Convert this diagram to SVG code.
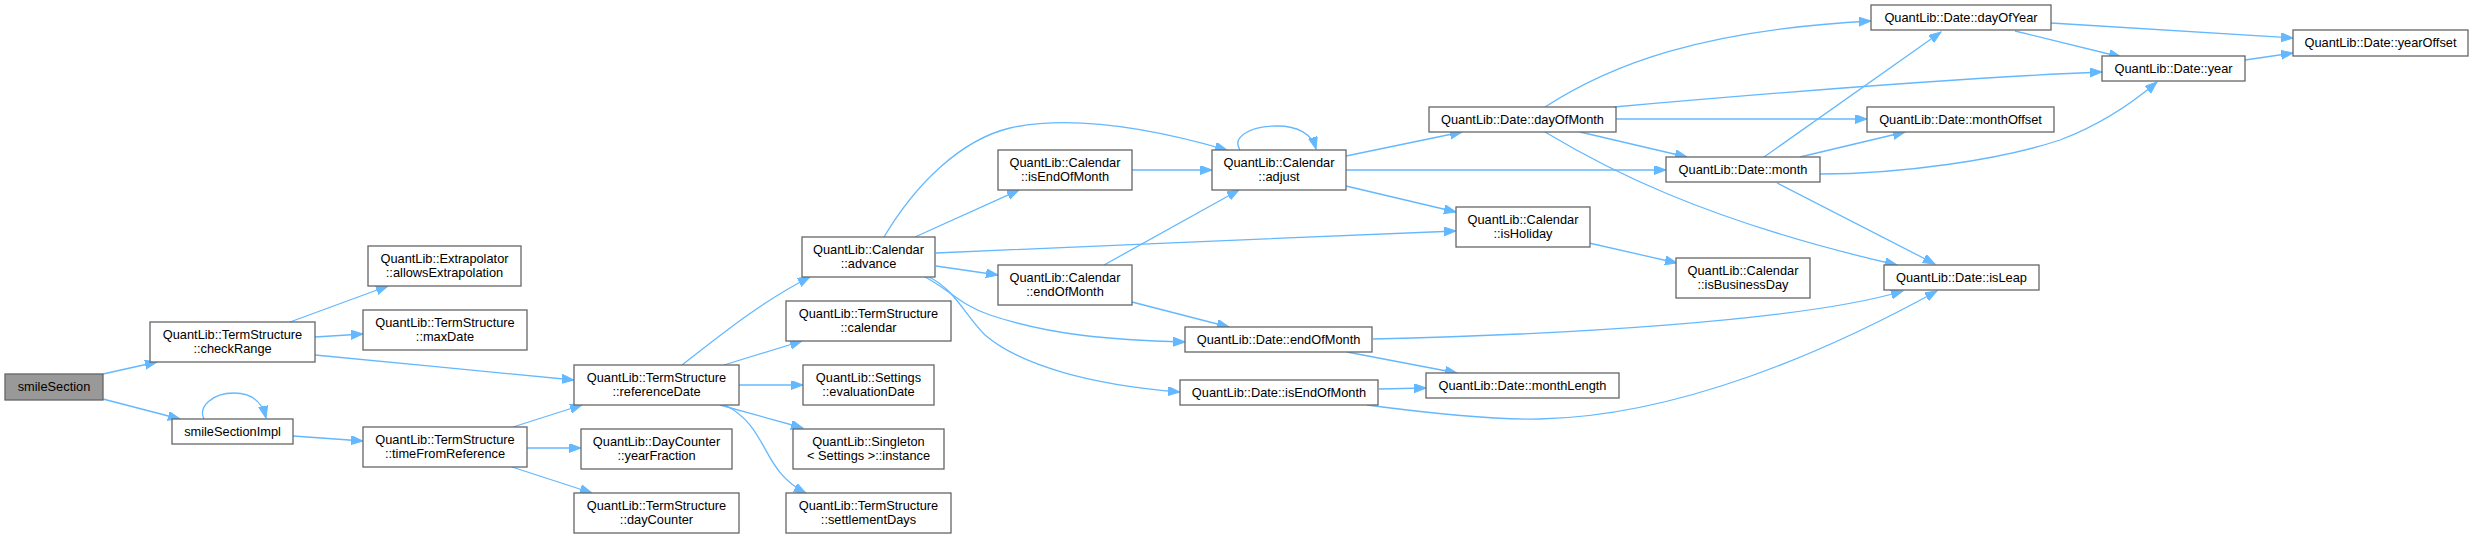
<svg xmlns="http://www.w3.org/2000/svg" width="2475" height="538" viewBox="0 0 2475 538">
<style>
.n rect{fill:#fff;stroke:#666;stroke-width:1.3}
.n text{font-family:"Liberation Sans",Arial,sans-serif;font-size:12.8px;fill:#000;text-anchor:middle}
#e path{fill:none;stroke:#63b8ff;stroke-width:1.3;marker-end:url(#a)}
</style>
<defs>
<marker id="a" markerWidth="13" markerHeight="10" refX="12" refY="4.5" orient="auto" markerUnits="userSpaceOnUse">
<path d="M0,0 L12,4.5 L0,9 z" fill="#63b8ff" stroke="#63b8ff" stroke-width="1"/>
</marker>
</defs>
<rect width="2475" height="538" fill="#fff"/>
<g id="e">
<path d="M103,374 L157,362"/>
<path d="M103,399 L180,419"/>
<path d="M204,419 C198,407 212,393 234,393 C252,393 262,401 266,418"/>
<path d="M293,436 L363,441"/>
<path d="M290,322 L388,286"/>
<path d="M315,337 L363,334"/>
<path d="M315,355 C400,363 490,372 574,380"/>
<path d="M513,427 L582,405"/>
<path d="M527,448 L581,448"/>
<path d="M512,467 L592,493"/>
<path d="M682,365 C712,342 760,302 810,277"/>
<path d="M724,365 L802,341"/>
<path d="M739,385 L803,385"/>
<path d="M720,405 L803,428"/>
<path d="M725,405 C770,428 760,470 806,493"/>
<path d="M884,237 C915,185 960,140 1010,128 C1060,117 1130,122 1227,150"/>
<path d="M915,237 L1019,190"/>
<path d="M936,253 C1100,246 1300,237 1456,231"/>
<path d="M936,266 L998,275"/>
<path d="M925,277 C950,290 960,305 990,315 C1050,335 1110,340 1185,342"/>
<path d="M929,277 C955,290 965,315 985,335 C1020,365 1090,385 1180,392"/>
<path d="M1132,170 L1212,170"/>
<path d="M1104,265 L1239,190"/>
<path d="M1132,302 L1229,327"/>
<path d="M1240,150 C1232,138 1248,126 1277,126 C1298,126 1312,134 1316,149"/>
<path d="M1346,156 L1462,132"/>
<path d="M1346,170 L1666,170"/>
<path d="M1346,186 L1456,212"/>
<path d="M1589,243 L1677,263"/>
<path d="M1373,339 C1550,335 1800,322 1903,291"/>
<path d="M1347,352 L1457,373"/>
<path d="M1379,389 L1426,388"/>
<path d="M1367,405 C1420,412 1490,420 1540,419 C1680,416 1830,350 1937,291"/>
<path d="M1545,107 C1610,65 1700,30 1871,21"/>
<path d="M1614,107 C1750,95 1950,78 2102,72"/>
<path d="M1616,119 L1867,119"/>
<path d="M1580,132 L1687,157"/>
<path d="M1545,132 C1600,165 1700,220 1897,265"/>
<path d="M1764,157 L1941,32"/>
<path d="M1800,157 L1905,132"/>
<path d="M1820,174 C1900,174 2000,160 2060,140 C2100,125 2130,105 2157,82"/>
<path d="M1777,183 L1935,264"/>
<path d="M2051,23 L2293,38"/>
<path d="M2015,31 L2121,57"/>
<path d="M2245,60 L2293,53"/>
</g>
<g id="smileSection" class="n"><rect x="5" y="374" width="98" height="26" style="fill:#999"/><text x="54" y="391">smileSection</text></g>
<g id="checkRange" class="n"><rect x="150" y="322" width="165" height="40"/><text x="232.5" y="339">QuantLib::TermStructure</text><text x="232.5" y="353">::checkRange</text></g>
<g id="smileSectionImpl" class="n"><rect x="172" y="419" width="121" height="25"/><text x="232.5" y="436">smileSectionImpl</text></g>
<g id="allowsExtrapolation" class="n"><rect x="368" y="246" width="153" height="40"/><text x="444.5" y="263">QuantLib::Extrapolator</text><text x="444.5" y="277">::allowsExtrapolation</text></g>
<g id="maxDate" class="n"><rect x="363" y="310" width="164" height="40"/><text x="445" y="327">QuantLib::TermStructure</text><text x="445" y="341">::maxDate</text></g>
<g id="timeFromReference" class="n"><rect x="363" y="427" width="164" height="40"/><text x="445" y="444">QuantLib::TermStructure</text><text x="445" y="458">::timeFromReference</text></g>
<g id="referenceDate" class="n"><rect x="574" y="365" width="165" height="40"/><text x="656.5" y="382">QuantLib::TermStructure</text><text x="656.5" y="396">::referenceDate</text></g>
<g id="yearFraction" class="n"><rect x="581" y="429" width="151" height="40"/><text x="656.5" y="446">QuantLib::DayCounter</text><text x="656.5" y="460">::yearFraction</text></g>
<g id="dayCounter" class="n"><rect x="574" y="493" width="165" height="40"/><text x="656.5" y="510">QuantLib::TermStructure</text><text x="656.5" y="524">::dayCounter</text></g>
<g id="advance" class="n"><rect x="802" y="237" width="133" height="40"/><text x="868.5" y="254">QuantLib::Calendar</text><text x="868.5" y="268">::advance</text></g>
<g id="calendar" class="n"><rect x="786" y="301" width="165" height="40"/><text x="868.5" y="318">QuantLib::TermStructure</text><text x="868.5" y="332">::calendar</text></g>
<g id="evaluationDate" class="n"><rect x="803" y="365" width="131" height="40"/><text x="868.5" y="382">QuantLib::Settings</text><text x="868.5" y="396">::evaluationDate</text></g>
<g id="instance" class="n"><rect x="793" y="429" width="151" height="40"/><text x="868.5" y="446">QuantLib::Singleton</text><text x="868.5" y="460">&lt; Settings &gt;::instance</text></g>
<g id="settlementDays" class="n"><rect x="786" y="493" width="165" height="40"/><text x="868.5" y="510">QuantLib::TermStructure</text><text x="868.5" y="524">::settlementDays</text></g>
<g id="calIsEndOfMonth" class="n"><rect x="998" y="150" width="134" height="40"/><text x="1065" y="167">QuantLib::Calendar</text><text x="1065" y="181">::isEndOfMonth</text></g>
<g id="calEndOfMonth" class="n"><rect x="998" y="265" width="134" height="40"/><text x="1065" y="282">QuantLib::Calendar</text><text x="1065" y="296">::endOfMonth</text></g>
<g id="adjust" class="n"><rect x="1212" y="150" width="134" height="40"/><text x="1279" y="167">QuantLib::Calendar</text><text x="1279" y="181">::adjust</text></g>
<g id="dateEndOfMonth" class="n"><rect x="1185" y="327" width="187" height="25"/><text x="1278.5" y="344">QuantLib::Date::endOfMonth</text></g>
<g id="dateIsEndOfMonth" class="n"><rect x="1180" y="380" width="198" height="25"/><text x="1279" y="397">QuantLib::Date::isEndOfMonth</text></g>
<g id="dayOfMonth" class="n"><rect x="1429" y="107" width="187" height="25"/><text x="1522.5" y="124">QuantLib::Date::dayOfMonth</text></g>
<g id="isHoliday" class="n"><rect x="1456" y="207" width="134" height="40"/><text x="1523" y="224">QuantLib::Calendar</text><text x="1523" y="238">::isHoliday</text></g>
<g id="monthLength" class="n"><rect x="1426" y="373" width="193" height="25"/><text x="1522.5" y="390">QuantLib::Date::monthLength</text></g>
<g id="month" class="n"><rect x="1666" y="157" width="154" height="25"/><text x="1743" y="174">QuantLib::Date::month</text></g>
<g id="isBusinessDay" class="n"><rect x="1676" y="258" width="134" height="40"/><text x="1743" y="275">QuantLib::Calendar</text><text x="1743" y="289">::isBusinessDay</text></g>
<g id="dayOfYear" class="n"><rect x="1871" y="5" width="180" height="25"/><text x="1961" y="22">QuantLib::Date::dayOfYear</text></g>
<g id="monthOffset" class="n"><rect x="1867" y="107" width="187" height="25"/><text x="1960.5" y="124">QuantLib::Date::monthOffset</text></g>
<g id="isLeap" class="n"><rect x="1884" y="265" width="155" height="25"/><text x="1961.5" y="282">QuantLib::Date::isLeap</text></g>
<g id="year" class="n"><rect x="2102" y="56" width="143" height="25"/><text x="2173.5" y="73">QuantLib::Date::year</text></g>
<g id="yearOffset" class="n"><rect x="2293" y="30" width="175" height="26"/><text x="2380.5" y="47">QuantLib::Date::yearOffset</text></g>
</svg>
